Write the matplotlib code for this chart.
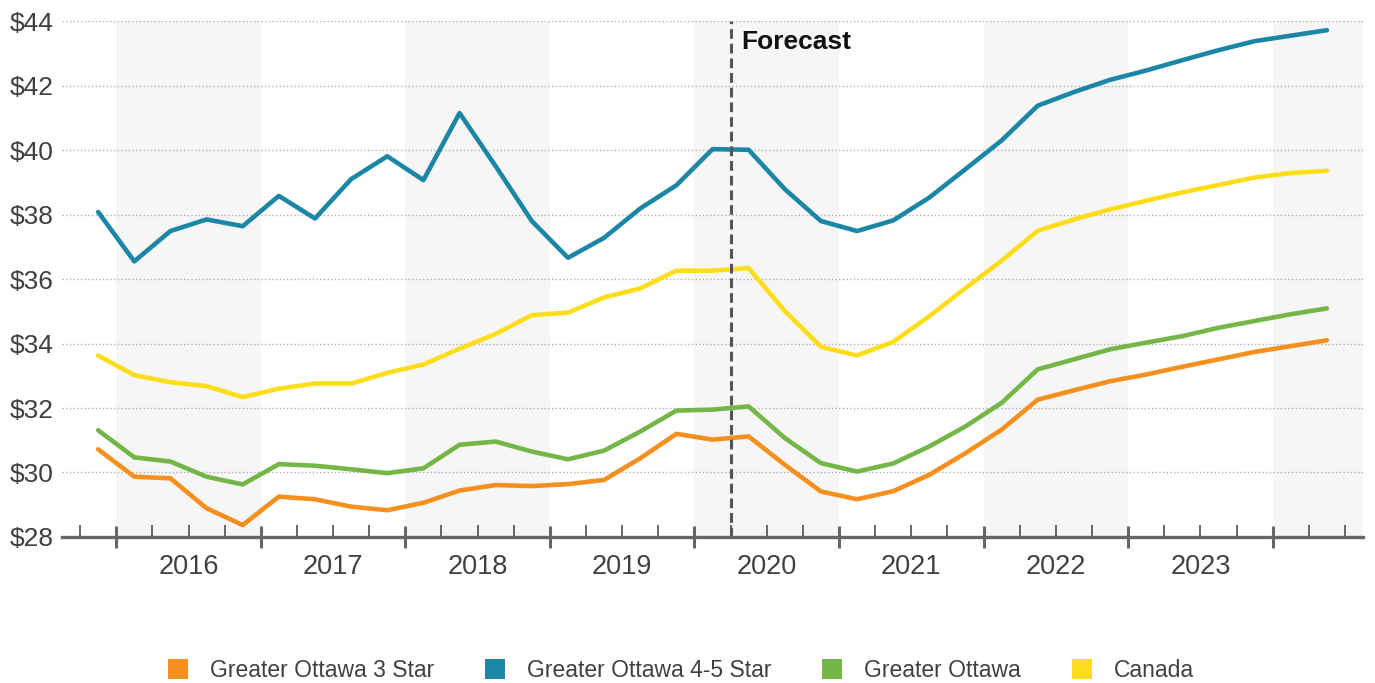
import matplotlib
matplotlib.use('Agg')
import matplotlib.pyplot as plt
import matplotlib.transforms as mtransforms
from matplotlib.lines import Line2D
import pandas as pd

plt.rcParams['font.family'] = ['Liberation Sans', 'DejaVu Sans']

# quarterly series, 2015 Q4 to 2024 Q2 (forecast from 2020 Q2)
quarters = pd.period_range('2015Q4', '2024Q2', freq='Q')

ottawa_3star = [30.72, 29.87, 29.82, 28.89, 28.37, 29.25, 29.17, 28.94, 28.83, 29.06,
                29.44, 29.61, 29.58, 29.64, 29.77, 30.44, 31.20, 31.02, 31.12, 30.24,
                29.41, 29.17, 29.42, 29.93, 30.60, 31.33, 32.26, 32.55, 32.83, 33.04,
                33.28, 33.51, 33.74, 33.92, 34.10]
ottawa_45star = [38.08, 36.55, 37.49, 37.85, 37.64, 38.58, 37.88, 39.10, 39.81, 39.07,
                 41.15, 39.50, 37.80, 36.66, 37.28, 38.19, 38.91, 40.03, 40.01, 38.79,
                 37.80, 37.49, 37.82, 38.53, 39.41, 40.30, 41.38, 41.80, 42.18, 42.47,
                 42.79, 43.10, 43.38, 43.55, 43.72]
ottawa_all = [31.31, 30.47, 30.34, 29.87, 29.63, 30.26, 30.21, 30.10, 29.98, 30.13,
              30.86, 30.96, 30.65, 30.41, 30.68, 31.27, 31.92, 31.95, 32.05, 31.07,
              30.29, 30.03, 30.28, 30.81, 31.43, 32.16, 33.20, 33.51, 33.82, 34.03,
              34.23, 34.49, 34.70, 34.91, 35.09]
canada = [33.63, 33.02, 32.80, 32.68, 32.34, 32.60, 32.76, 32.76, 33.09, 33.35,
          33.84, 34.30, 34.88, 34.96, 35.43, 35.71, 36.26, 36.26, 36.34, 35.01,
          33.90, 33.63, 34.05, 34.85, 35.72, 36.57, 37.50, 37.85, 38.16, 38.43,
          38.69, 38.92, 39.15, 39.29, 39.36]

series_names = ['Greater Ottawa 3 Star', 'Greater Ottawa 4-5 Star', 'Greater Ottawa', 'Canada']
series_colors = ['#f58f1e', '#1c86a6', '#74b648', '#fddd1a']
year_labels = [2016, 2017, 2018, 2019, 2020, 2021, 2022, 2023]
forecast_start = 2020.25

# each quarter sits in the middle of its slot on a decimal-year axis
x = [q.year + (q.quarter - 1) / 4 + 0.125 for q in quarters]

fig = plt.figure(figsize=(13.75, 6.83), dpi=100)
ax = fig.add_axes([0.0451, 0.2138, 0.9462, 0.7552])

x_min, x_max = 2015.625, 2024.625
ax.set_xlim(x_min, x_max)
ax.set_ylim(28, 44)

# alternating year shading
for yr in range(2016, 2025, 2):
    ax.axvspan(yr, min(yr + 1, x_max), color='#f6f6f6', lw=0, zorder=0)

ax.set_yticks(range(28, 45, 2))
ax.set_yticklabels(['$%d' % v for v in range(28, 45, 2)])
ax.yaxis.grid(True, linestyle=':', color='#b0b0b0', linewidth=1.0, zorder=1)
ax.set_axisbelow(True)

for data, name, color in zip([ottawa_3star, ottawa_45star, ottawa_all, canada],
                             series_names, series_colors):
    ax.plot(x, data, color=color, lw=3.3, solid_capstyle='round',
            solid_joinstyle='round', label=name, zorder=3)

# forecast marker
ax.axvline(forecast_start, color='#555555', lw=2.2, linestyle=(0, (3.2, 1.6)), zorder=4)
ax.text(forecast_start + 0.075, 43.36, 'Forecast', fontsize=19, fontweight='bold',
        color='#111111', va='center', ha='left', zorder=5)

for side in ['left', 'right', 'top']:
    ax.spines[side].set_visible(False)
ax.spines['bottom'].set_color('#666666')
ax.spines['bottom'].set_linewidth(2.4)
ax.spines['bottom'].set_zorder(5)

ax.tick_params(axis='y', length=0, pad=6, labelsize=19, labelcolor='#404040')

ax.set_xticks(range(2016, 2025))
ax.set_xticklabels([])
ax.set_xticks([2015.75 + 0.25 * i for i in range(36) if (2015.75 + 0.25 * i) % 1 != 0],
              minor=True)
ax.tick_params(axis='x', which='major', direction='inout', length=16.5, width=2.2,
               color='#666666')
ax.tick_params(axis='x', which='minor', direction='in', length=8.5, width=1.4,
               color='#666666')

trans = mtransforms.blended_transform_factory(ax.transData, ax.transAxes)
for yr in year_labels:
    ax.text(yr + 0.5, -0.059, str(yr), transform=trans, ha='center', va='center',
            fontsize=19.5, color='#404040')

handles = [Line2D([], [], linestyle='none', marker='s', markersize=14.4,
                  markerfacecolor=c, markeredgewidth=0) for c in series_colors]
fig.legend(handles, series_names, loc='center', bbox_to_anchor=(0.495, 0.019),
           ncol=4, frameon=False, fontsize=16.5, labelcolor='#404040',
           handlelength=0.9, handletextpad=0.95, columnspacing=2.2, borderpad=0)

fig.savefig('out.png', dpi=100)
